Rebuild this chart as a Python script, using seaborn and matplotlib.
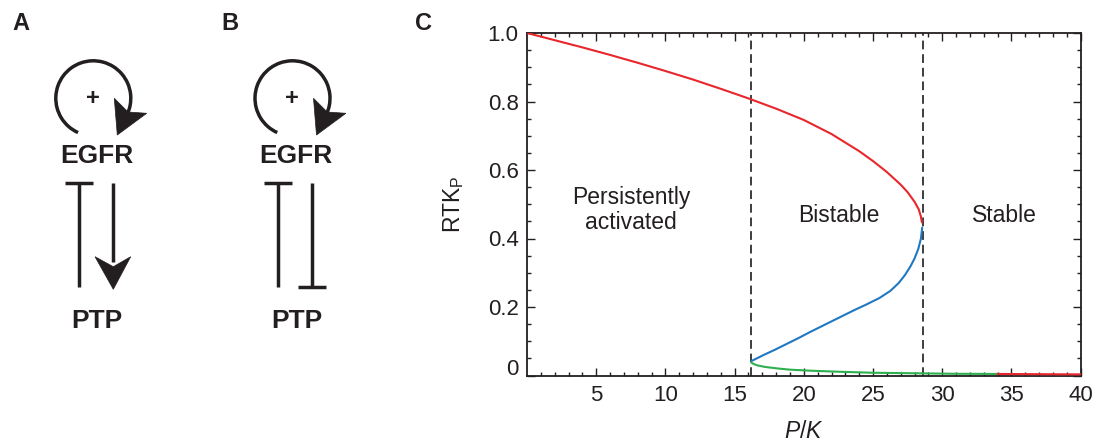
import numpy as np
import pandas as pd
import matplotlib
matplotlib.use("Agg")
import matplotlib.pyplot as plt
import matplotlib.transforms as mtransforms
from matplotlib.patches import Arc, Polygon
import seaborn as sns

# --- datos ---
# rama superior estable (roja)
UPPER_X = [0.0, 2.0, 4.0, 6.0, 8.0, 10.0, 12.0, 14.0, 16.0, 18.0, 20.0, 22.0,
           24.0, 25.0, 26.0, 27.0, 27.5, 28.0, 28.3, 28.45, 28.53]
UPPER_Y = [1.0, 0.979, 0.958, 0.936, 0.913, 0.889, 0.864, 0.837, 0.809, 0.779,
           0.746, 0.705, 0.655, 0.626, 0.594, 0.557, 0.535, 0.507, 0.485, 0.465, 0.447]
# rama intermedia inestable (azul)
MIDDLE_X = [28.55, 28.46, 28.27, 28.0, 27.72, 27.3, 26.85, 26.25, 25.45, 24.5,
            23.7, 23.0, 21.5, 20.5, 19.6, 18.75, 17.9, 17.1, 16.35, 16.2]
MIDDLE_Y = [0.432, 0.40, 0.37, 0.342, 0.32, 0.293, 0.27, 0.247, 0.226, 0.207,
            0.192, 0.178, 0.148, 0.128, 0.109, 0.092, 0.075, 0.06, 0.045, 0.042]
# rama inferior estable (verde)
LOWER_X = [16.2, 16.4, 16.7, 17.2, 18.0, 19.0, 20.5, 22.5, 25.0, 28.0, 31.0, 34.0]
LOWER_Y = [0.038, 0.033, 0.029, 0.025, 0.021, 0.017, 0.014, 0.011, 0.008,
           0.0065, 0.005, 0.0045]
# cola final (roja)
TAIL_X = [34.0, 37.0, 40.0]
TAIL_Y = [0.0045, 0.0038, 0.0032]

FOLD_X = [16.2, 28.6]

X_TICKS = [5, 10, 15, 20, 25, 30, 35, 40]
Y_TICKS = [0, 0.2, 0.4, 0.6, 0.8, 1.0]
Y_TICK_LABELS = ["0", "0.2", "0.4", "0.6", "0.8", "1.0"]

REGIONS = ["Persistently\nactivated", "Bistable", "Stable"]
REGION_X = [7.5, 22.5, 34.5]
REGION_Y = [0.483, 0.468, 0.468]

INK = "#231f20"
RED = "#e8262b"
BLUE = "#1f78c1"
GREEN = "#2fb050"

sns.set_theme(style="ticks")
plt.rcParams["font.family"] = ["Liberation Sans", "DejaVu Sans"]
plt.rcParams["mathtext.fontset"] = "custom"
plt.rcParams["mathtext.rm"] = "Liberation Sans"
plt.rcParams["mathtext.it"] = "Liberation Sans:italic"

W, H = 1093, 441
fig = plt.figure(figsize=(W / 100, H / 100), dpi=100)

# --- panel C: diagrama de bifurcacion ---
ax = fig.add_axes([527 / W, (H - 375.5) / H, 553.7 / W, 342.5 / H])

branches = [
    (UPPER_X, UPPER_Y, RED),
    (MIDDLE_X, MIDDLE_Y, BLUE),
    (LOWER_X, LOWER_Y, GREEN),
    (TAIL_X, TAIL_Y, RED),
]
for bx, by, col in branches:
    df = pd.DataFrame({"x": bx, "y": by})
    sns.lineplot(data=df, x="x", y="y", sort=False, estimator=None,
                 color=col, linewidth=1.5, ax=ax, zorder=3)

for fx in FOLD_X:
    ax.axvline(fx, color="#3d3d3d", linestyle=(0, (4.5, 2.5)), linewidth=1.4, zorder=2)

for txt, tx, ty in zip(REGIONS, REGION_X, REGION_Y):
    ax.text(tx, ty, txt, ha="center", va="center", fontsize=16.5, color=INK,
            linespacing=1.1)

ax.set_xlim(0, 40)
ax.set_ylim(0, 1.0)
ax.set_xticks(X_TICKS)
ax.set_xticklabels([str(t) for t in X_TICKS])
ax.set_yticks(Y_TICKS)
ax.set_yticklabels(Y_TICK_LABELS)
ax.set_xticks(np.arange(1, 40, 1), minor=True)
ax.set_yticks(np.arange(0.05, 1.0, 0.05), minor=True)
ax.tick_params(which="both", direction="in", top=True, right=True,
               color=INK, width=1.0)
ax.tick_params(which="major", length=6, labelsize=16, labelcolor=INK)
ax.tick_params(which="minor", length=3)
ax.tick_params(axis="x", which="major", pad=7)
ax.tick_params(axis="y", which="major", pad=6)
for sp in ax.spines.values():
    sp.set_visible(True)
    sp.set_color(INK)
    sp.set_linewidth(1.3)

ax.set_xlabel("$P/K$", fontsize=16.5, color=INK)
ax.set_ylabel("RTK$_\\mathrm{P}$", fontsize=16.5, color=INK)
ax.xaxis.set_label_coords(0.5, -0.13)
ax.yaxis.set_label_coords(-0.11, 0.5)

# etiqueta "0" algo elevada como en el original
zero_lbl = ax.yaxis.get_major_ticks()[0].label1
zero_lbl.set_transform(zero_lbl.get_transform() +
                       mtransforms.ScaledTranslation(0, 6 / 72, fig.dpi_scale_trans))

# --- paneles A y B: esquemas ---
dax = fig.add_axes([0, 0, 1, 1], zorder=-1)
dax.set_xlim(0, W)
dax.set_ylim(0, H)
dax.axis("off")


def py(y):
    return H - y


LW = 2.5


def draw_motif(dx, activating):
    # bucle de autoactivacion
    dax.add_patch(Arc((93.3 + dx, py(98.3)), 75, 75, theta1=-28, theta2=246,
                      color=INK, linewidth=LW))
    head = [(114.3, 98.3), (128, 112), (146.7, 113.3), (117.3, 135)]
    dax.add_patch(Polygon([(x + dx, py(y)) for x, y in head], closed=True,
                          facecolor=INK, edgecolor=INK, linewidth=0.5))
    dax.text(92.7 + dx, py(98.3), "+", ha="center", va="center",
             fontsize=17, fontweight="bold", color=INK)
    dax.text(96.7 + dx, py(155.8), "EGFR", ha="center", va="center",
             fontsize=19, fontweight="bold", color=INK)
    dax.text(97.2 + dx, py(320.8), "PTP", ha="center", va="center",
             fontsize=19, fontweight="bold", color=INK)
    # PTP inhibe EGFR
    dax.plot([78.7 + dx, 78.7 + dx], [py(182.7), py(286.7)], color=INK,
             linewidth=LW, solid_capstyle="butt")
    dax.plot([65 + dx, 92.7 + dx], [py(182.7), py(182.7)], color=INK,
             linewidth=LW, solid_capstyle="butt")
    if activating:
        dax.plot([112.9 + dx, 112.9 + dx], [py(183.3), py(262)], color=INK,
                 linewidth=LW, solid_capstyle="butt")
        ahead = [(95, 256.7), (113.3, 266.7), (130.7, 256.7), (113.3, 289.3)]
        dax.add_patch(Polygon([(x + dx, py(y)) for x, y in ahead], closed=True,
                              facecolor=INK, edgecolor=INK, linewidth=0.5))
    else:
        dax.plot([112.5 + dx, 112.5 + dx], [py(183.3), py(286.7)], color=INK,
                 linewidth=LW, solid_capstyle="butt")
        dax.plot([99 + dx, 126.7 + dx], [py(286.7), py(286.7)], color=INK,
                 linewidth=LW, solid_capstyle="butt")


draw_motif(0, True)
draw_motif(199.2, False)

for lbl, lx in zip(["A", "B", "C"], [20.7, 230, 423]):
    dax.text(lx, py(23), lbl, ha="center", va="center", fontsize=17,
             fontweight="bold", color=INK)

fig.savefig("out.png", dpi=100)
